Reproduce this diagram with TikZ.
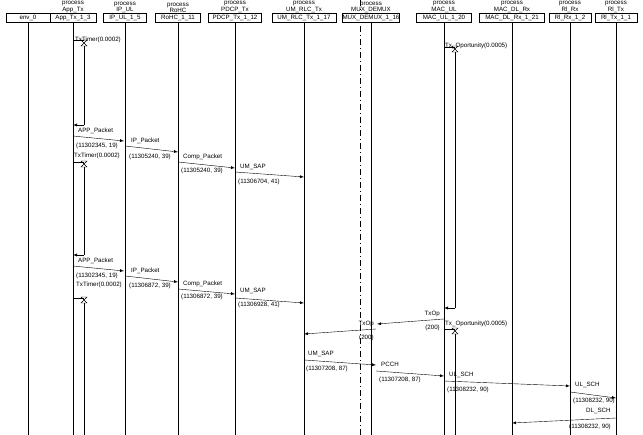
\documentclass[tikz,border=0pt]{standalone}
\usepackage{fontspec}
\setmainfont{Liberation Sans}
\begin{document}
\begin{tikzpicture}[x=1pt,y=-1pt,font=\fontsize{6.2}{6.2}\selectfont,
  head/.style={draw,minimum height=9pt,inner sep=0pt,anchor=north},
  proc/.style={anchor=south,inner sep=0pt,align=center,font=\fontsize{6.2}{5.5}\selectfont},
  life/.style={line width=0.5pt},
  msgline/.style={-latex,line width=0.4pt},
  lbl/.style={inner sep=0pt,anchor=south west},
  sub/.style={inner sep=0pt,anchor=north west}]
\useasboundingbox (0,0) rectangle (643,435);
\draw[dashed,line width=0.4pt,dash pattern=on 6pt off 3pt on 1pt off 3pt] (360,0) -- (360,435);
% heads
\foreach \n/\x/\w/\t/\p in {E/28/44/env\_0/,A/73/46/App\_Tx\_1\_3/process\\App\_Tx,I/125/43/IP\_UL\_1\_5/process\\IP\_UL,R/178/45/RoHC\_1\_11/process\\RoHC,P/235/53/PDCP\_Tx\_1\_12/process\\PDCP\_Tx,U/304/64/UM\_RLC\_Tx\_1\_17/process\\UM\_RLC\_Tx,M/371/56/MUX\_DEMUX\_1\_16/process\\MUX\_DEMUX,C/444/55/MAC\_UL\_1\_20/process\\MAC\_UL,D/512/65/MAC\_DL\_Rx\_1\_21/process\\MAC\_DL\_Rx,X/570/42/Rl\_Rx\_1\_2/process\\Rl\_Rx,T/616/42/Rl\_Tx\_1\_1/process\\Rl\_Tx}{
  \node[head,minimum width=\w pt,fill=white] (h\n) at (\x,13) {\t};
  \node[proc] (p\n) at (\x,13) {\p};
  \draw[life] (h\n.south) -- (\x,435);
}
\newcommand\hg[2]{\draw[line width=0.4pt] (#1-3,#2) -- (#1+3,#2) -- (#1-3,#2+6) -- (#1+3,#2+6) -- cycle;}
% App timer 1
\draw (73,40) -- (84,40); \hg{84}{40} \draw[life] (84,46) -- (84,125);
\node[lbl] (t1) at (75,43) {TxTimer(0.0002)};
\draw[msgline] (84,125) -- (73,125);
% MAC timer
\draw (444,47) -- (455,47); \hg{455}{46} \draw[life] (455,52) -- (455,308);
\node[lbl] (t2) at (445,49) {Tx\_Oportunity(0.0005)};
\draw[msgline] (455,308) -- (444,308);
% cycle 1
\node[lbl] at (78,134) {APP\_Packet};
\draw[msgline] (73,136) -- (124,141); \node[sub] at (76,143) {(11302345, 19)};
\node[lbl] at (131,144) {IP\_Packet};
\draw[msgline] (125,146) -- (178,152); \node[sub] at (129,154) {(11305240, 39)};
\node[lbl] at (183,160) {Comp\_Packet};
\draw[msgline] (178,162) -- (235,168); \node[sub] at (181,168) {(11305240, 39)};
\node[lbl] at (240,170) {UM\_SAP};
\draw[msgline] (235,172) -- (304,177); \node[sub] at (238,179) {(11306704, 41)};
\node[lbl] at (74,159) {TxTimer(0.0002)};
\draw (73,162) -- (84,162); \hg{84}{161} \draw[life] (84,167) -- (84,255);
\draw[msgline] (84,255) -- (73,255);
% cycle 2
\node[lbl] at (78,264) {APP\_Packet};
\draw[msgline] (73,266) -- (124,271); \node[sub] at (76,273) {(11302345, 19)};
\node[lbl] at (131,274) {IP\_Packet};
\draw[msgline] (125,276) -- (178,282); \node[sub] at (129,283) {(11306872, 39)};
\node[lbl] at (183,287) {Comp\_Packet};
\draw[msgline] (178,289) -- (235,294); \node[sub] at (181,294) {(11306872, 39)};
\node[lbl] at (240,294) {UM\_SAP};
\draw[msgline] (235,298) -- (304,303); \node[sub] at (238,302) {(11306928, 41)};
\node[lbl] at (76,288) {TxTimer(0.0002)};
\draw (73,298) -- (84,298); \hg{84}{297} \draw[life] (84,303) -- (84,435);
% MAC TxOp
\node[lbl,anchor=south east] at (440,317) {TxOp};
\draw[msgline] (444,319) -- (377,324); \node[sub,anchor=north east] at (440,325) {(200)};
\node[lbl,anchor=south east] at (374,327) {TxOp};
\draw[msgline] (376,329) -- (304,334); \node[sub] at (359,335) {(200)};
\node[lbl] at (445,327) {Tx\_Oportunity(0.0005)};
\draw (444,329) -- (455,329); \hg{455}{328} \draw[life] (455,334) -- (455,435);
% lower
\node[lbl] at (308,357) {UM\_SAP};
\draw[msgline] (304,360) -- (376,365); \node[sub] at (306,366) {(11307208, 87)};
\node[lbl] at (381,367) {PCCH};
\draw[msgline] (376,371) -- (444,376); \node[sub] at (379,377) {(11307208, 87)};
\node[lbl] at (449,378) {UL\_SCH};
\draw[msgline] (444,381) -- (570,386); \node[sub] at (447,387) {(11308232, 90)};
\node[lbl] at (575,388) {UL\_SCH};
\draw[msgline] (570,392) -- (616,398); \node[sub] at (573,398) {(11308232, 90)};
\node[lbl] at (586,414) {DL\_SCH};
\draw[msgline] (616,418) -- (512,423); \node[sub] at (569,424) {(11308232, 90)};
\end{tikzpicture}
\end{document}
